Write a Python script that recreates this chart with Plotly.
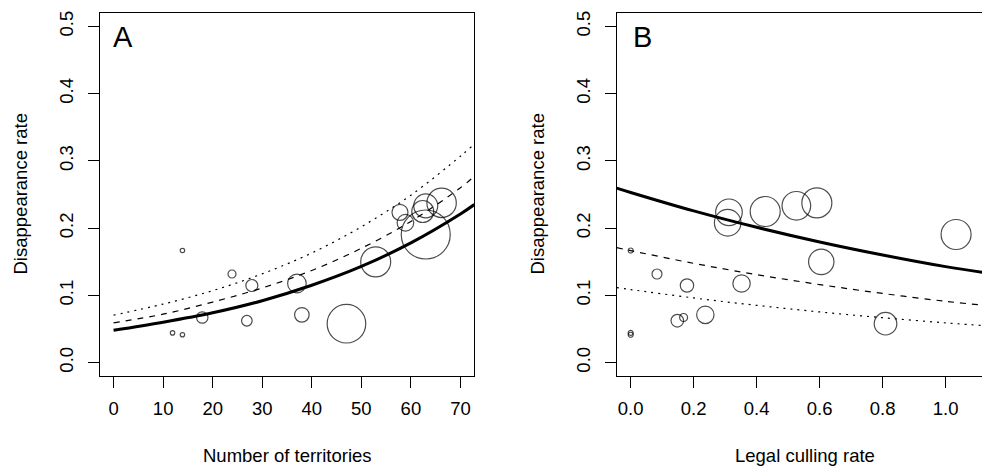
import plotly.graph_objects as go

# ---------------- data ----------------
territories = [13.9, 11.9, 13.9, 23.9, 17.9, 27.9, 26.9, 37.0, 38.0, 47.0, 52.9, 57.8, 58.9, 63.0, 62.4, 66.2, 63.0]
culling = [0.0, 0.0, 0.0, 0.0835, 0.168, 0.1787, 0.148, 0.352, 0.237, 0.809, 0.605, 0.312, 0.308, 0.526, 0.427, 0.591, 1.033]
disappearance = [0.1667, 0.0441, 0.0414, 0.1317, 0.067, 0.1146, 0.0622, 0.1176, 0.071, 0.0578, 0.1498, 0.2235, 0.208, 0.2332, 0.2247, 0.2375, 0.1905]
weight_A = [2.2, 2.2, 2.2, 4.0, 5.7, 6.0, 5.3, 9.3, 7.3, 19.3, 15.0, 8.0, 8.3, 12.0, 11.0, 14.7, 24.5]
weight_B = [2.5, 2.5, 2.5, 5.0, 4.0, 6.7, 6.3, 8.7, 8.7, 11.3, 12.7, 13.3, 13.3, 14.3, 15.0, 15.0, 15.0]

curveA_x = [0, 10, 20, 30, 40, 50, 60, 70, 72.8]
curveA_solid = [0.048, 0.060, 0.074, 0.092, 0.115, 0.143, 0.178, 0.221, 0.235]
curveA_dashed = [0.059, 0.072, 0.090, 0.111, 0.137, 0.170, 0.210, 0.260, 0.277]
curveA_dotted = [0.0705, 0.087, 0.107, 0.132, 0.163, 0.202, 0.249, 0.307, 0.325]

curveB_x = [-0.0444, 0, 0.2, 0.4, 0.6, 0.8, 1.0, 1.16]
curveB_solid = [0.2595, 0.253, 0.2256, 0.2012, 0.1794, 0.160, 0.1427, 0.1313]
curveB_dashed = [0.171, 0.1665, 0.1476, 0.1308, 0.116, 0.1028, 0.0911, 0.0834]
curveB_dotted = [0.1116, 0.1086, 0.0961, 0.0851, 0.0753, 0.0667, 0.059, 0.0537]

xticks_A = [0, 10, 20, 30, 40, 50, 60, 70]
xticks_B = [0.0, 0.2, 0.4, 0.6, 0.8, 1.0]
xticklabels_B = ["0.0", "0.2", "0.4", "0.6", "0.8", "1.0"]
yticks = [0.0, 0.1, 0.2, 0.3, 0.4, 0.5]
yticklabels = ["0.0", "0.1", "0.2", "0.3", "0.4", "0.5"]

# ---------------- figure ----------------
W, H = 982, 468
FONT = "Liberation Sans, Arial, Helvetica, sans-serif"
FS = 18.5
fig = go.Figure()

def add_panel(xs, ys, w, cx, solid, dashed, dotted, xa, ya):
    fig.add_trace(go.Scatter(x=cx, y=dotted, mode="lines", line=dict(color="black", width=1.2, dash="2px,5px", shape="spline"),
                             xaxis=xa, yaxis=ya, showlegend=False, hoverinfo="skip"))
    fig.add_trace(go.Scatter(x=cx, y=dashed, mode="lines", line=dict(color="black", width=1.2, dash="6px,6px", shape="spline"),
                             xaxis=xa, yaxis=ya, showlegend=False, hoverinfo="skip"))
    fig.add_trace(go.Scatter(x=cx, y=solid, mode="lines", line=dict(color="black", width=3, shape="spline"),
                             xaxis=xa, yaxis=ya, showlegend=False, hoverinfo="skip"))
    fig.add_trace(go.Scatter(x=xs, y=ys, mode="markers",
                             marker=dict(symbol="circle-open", size=[2 * v for v in w], color="black",
                                         line=dict(color="black", width=1.2)),
                             xaxis=xa, yaxis=ya, showlegend=False))

add_panel(territories, disappearance, weight_A, curveA_x, curveA_solid, curveA_dashed, curveA_dotted, "x", "y")
add_panel(culling, disappearance, weight_B, curveB_x, curveB_solid, curveB_dashed, curveB_dotted, "x2", "y2")

ydom = [(H - 376) / H, (H - 13) / H]
common_axis = dict(showline=True, linecolor="black", linewidth=1, ticks="outside", ticklen=11, tickwidth=1,
                   tickcolor="black", showgrid=False, zeroline=False, automargin=False,
                   tickfont=dict(family=FONT, size=FS, color="black"))
xstyle = dict(common_axis, ticklabelstandoff=5)
ystyle = dict(common_axis, ticklabelstandoff=7, tickangle=-90)

fig.update_layout(
    width=W, height=H,
    margin=dict(l=0, r=0, t=0, b=0, autoexpand=False),
    paper_bgcolor="white", plot_bgcolor="white",
    font=dict(family=FONT, size=FS, color="black"),
    xaxis=dict(domain=[99.7 / W, 474.3 / W], range=[-2.8, 72.8], tickvals=xticks_A, mirror=True,
               anchor="y", **xstyle),
    yaxis=dict(domain=ydom, range=[-0.02, 0.52], tickvals=yticks, ticktext=yticklabels,
               mirror=True, anchor="x", **ystyle),
    xaxis2=dict(domain=[616.7 / W, 1.0], range=[-0.0444, 1.1153], tickvals=xticks_B, ticktext=xticklabels_B,
                mirror=True, anchor="y2", **xstyle),
    yaxis2=dict(domain=ydom, range=[-0.02, 0.52], tickvals=yticks, ticktext=yticklabels,
                mirror=False, anchor="x2", **ystyle),
)

def ann(text, x, y, size=FS, angle=0, xanchor="center", yanchor="middle"):
    fig.add_annotation(text=text, x=x / W, y=(H - y) / H, xref="paper", yref="paper", showarrow=False,
                       font=dict(family=FONT, size=size, color="black"), textangle=angle,
                       xanchor=xanchor, yanchor=yanchor)

ann("Number of territories", 287, 455)
ann("Legal culling rate", 805, 455)
ann("Disappearance rate", 20, 194.5, angle=-90)
ann("Disappearance rate", 537, 194.5, angle=-90)
ann("A", 111, 37, size=29, xanchor="left")
ann("B", 631, 37, size=29, xanchor="left")

fig.write_html("out.html", config={"displayModeBar": False},
               post_script="document.body.style.margin='0px';document.body.style.overflow='hidden';")
